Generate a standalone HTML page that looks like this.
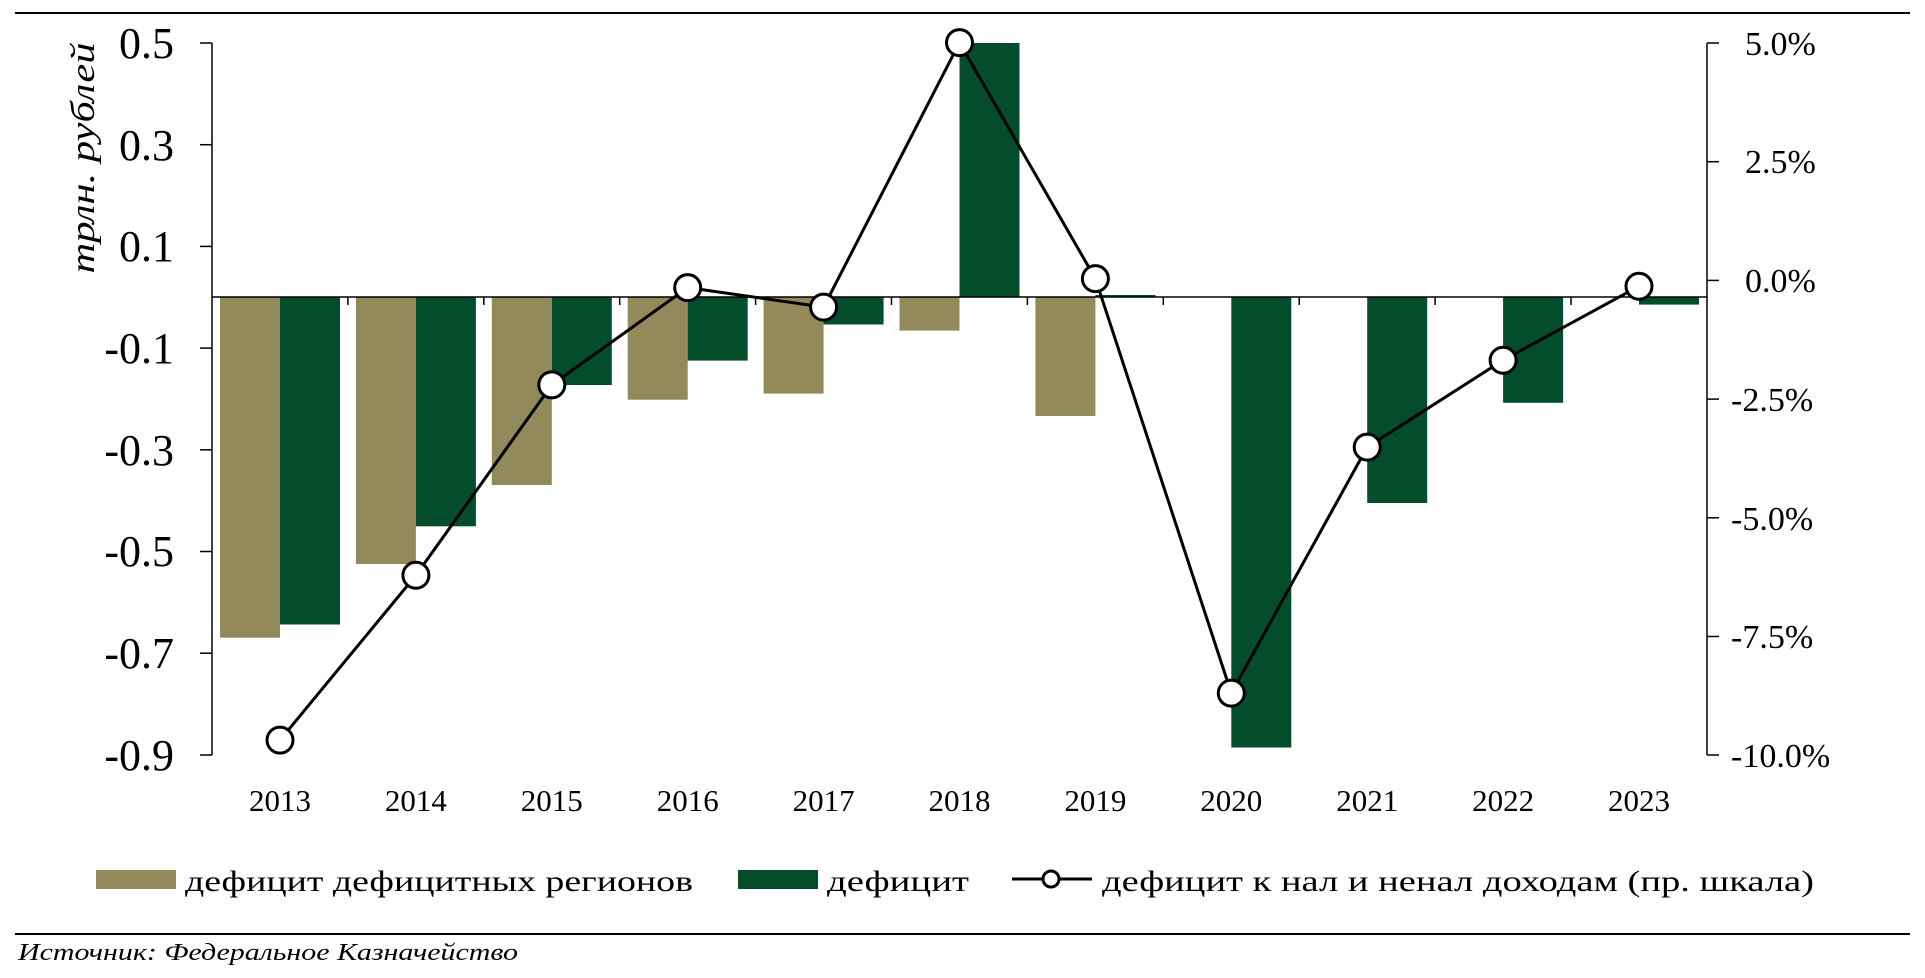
<!DOCTYPE html>
<html><head><meta charset="utf-8"><style>
html,body{margin:0;padding:0;background:#fff;width:1925px;height:978px;overflow:hidden}
svg{display:block;font-family:"Liberation Serif","DejaVu Serif",serif}
</style></head><body>
<svg width="1925" height="978" viewBox="0 0 1925 978" xmlns="http://www.w3.org/2000/svg">
<line x1="15" y1="13" x2="1910" y2="13" stroke="#000" stroke-width="2"/>
<line x1="15" y1="934" x2="1910" y2="934" stroke="#000" stroke-width="2"/>
<g fill="#938a5b">
<rect x="220" y="297" width="60" height="340.7"/>
<rect x="355.9" y="297" width="60" height="267"/>
<rect x="491.8" y="297" width="60" height="188"/>
<rect x="627.7" y="297" width="60" height="102.7"/>
<rect x="763.6" y="297" width="60" height="96.6"/>
<rect x="899.5" y="297" width="60" height="33.6"/>
<rect x="1035.4" y="297" width="60" height="119"/>
</g>
<g fill="#034d2c">
<rect x="280" y="297" width="60" height="327.5"/>
<rect x="415.9" y="297" width="60" height="229.3"/>
<rect x="551.8" y="297" width="60" height="88"/>
<rect x="687.7" y="297" width="60" height="63.6"/>
<rect x="823.6" y="297" width="60" height="27.5"/>
<rect x="959.5" y="43" width="60" height="254"/>
<rect x="1095.4" y="295" width="60" height="2"/>
<rect x="1231.3" y="297" width="60" height="450.5"/>
<rect x="1367.2" y="297" width="60" height="206"/>
<rect x="1503.1" y="297" width="60" height="105.8"/>
<rect x="1639" y="297" width="60" height="7.6"/>
</g>
<g stroke="#000" stroke-width="1.5">
<line x1="212" y1="43" x2="212" y2="755"/>
<line x1="1707" y1="43" x2="1707" y2="755"/>
<line x1="212" y1="297" x2="1707" y2="297"/>
<line x1="200" y1="43" x2="212" y2="43"/>
<line x1="200" y1="144.7" x2="212" y2="144.7"/>
<line x1="200" y1="246.4" x2="212" y2="246.4"/>
<line x1="200" y1="348.1" x2="212" y2="348.1"/>
<line x1="200" y1="449.8" x2="212" y2="449.8"/>
<line x1="200" y1="551.5" x2="212" y2="551.5"/>
<line x1="200" y1="653.2" x2="212" y2="653.2"/>
<line x1="200" y1="755" x2="212" y2="755"/>
<line x1="1707" y1="43" x2="1719" y2="43"/>
<line x1="1707" y1="161.7" x2="1719" y2="161.7"/>
<line x1="1707" y1="280.4" x2="1719" y2="280.4"/>
<line x1="1707" y1="399.1" x2="1719" y2="399.1"/>
<line x1="1707" y1="517.8" x2="1719" y2="517.8"/>
<line x1="1707" y1="636.5" x2="1719" y2="636.5"/>
<line x1="1707" y1="755" x2="1719" y2="755"/>
<line x1="347.9" y1="297" x2="347.9" y2="305"/>
<line x1="483.8" y1="297" x2="483.8" y2="305"/>
<line x1="619.7" y1="297" x2="619.7" y2="305"/>
<line x1="755.6" y1="297" x2="755.6" y2="305"/>
<line x1="891.5" y1="297" x2="891.5" y2="305"/>
<line x1="1027.4" y1="297" x2="1027.4" y2="305"/>
<line x1="1163.3" y1="297" x2="1163.3" y2="305"/>
<line x1="1299.2" y1="297" x2="1299.2" y2="305"/>
<line x1="1435.1" y1="297" x2="1435.1" y2="305"/>
<line x1="1571" y1="297" x2="1571" y2="305"/>
</g>
<g font-size="44" text-anchor="end" fill="#000">
<text x="174" y="58">0.5</text>
<text x="174" y="160">0.3</text>
<text x="174" y="261">0.1</text>
<text x="174" y="363">-0.1</text>
<text x="174" y="465">-0.3</text>
<text x="174" y="566">-0.5</text>
<text x="174" y="668">-0.7</text>
<text x="174" y="770">-0.9</text>
</g>
<g font-size="34" fill="#000">
<text x="1745" y="55">5.0%</text>
<text x="1745" y="173">2.5%</text>
<text x="1745" y="292">0.0%</text>
<text x="1731" y="411">-2.5%</text>
<text x="1731" y="530">-5.0%</text>
<text x="1731" y="648">-7.5%</text>
<text x="1731" y="767">-10.0%</text>
</g>
<text transform="translate(94,158) rotate(-90)" text-anchor="middle" font-size="34" font-style="italic" textLength="231" lengthAdjust="spacingAndGlyphs">трлн. рублей</text>
<g font-size="31" text-anchor="middle">
<text x="280" y="811">2013</text>
<text x="415.9" y="811">2014</text>
<text x="551.8" y="811">2015</text>
<text x="687.7" y="811">2016</text>
<text x="823.6" y="811">2017</text>
<text x="959.5" y="811">2018</text>
<text x="1095.4" y="811">2019</text>
<text x="1231.3" y="811">2020</text>
<text x="1367.2" y="811">2021</text>
<text x="1503.1" y="811">2022</text>
<text x="1639" y="811">2023</text>
</g>
<polyline fill="none" stroke="#000" stroke-width="3" points="280,740.1 415.9,575.3 551.8,384.9 687.7,287.6 823.6,307.1 959.5,42.6 1095.4,278.6 1231.3,693.1 1367.2,447.1 1503.1,360.2 1639,286.2"/>
<g fill="#fff" stroke="#000" stroke-width="3">
<circle cx="280" cy="740.1" r="13"/>
<circle cx="415.9" cy="575.3" r="13"/>
<circle cx="551.8" cy="384.9" r="13"/>
<circle cx="687.7" cy="287.6" r="13"/>
<circle cx="823.6" cy="307.1" r="13"/>
<circle cx="959.5" cy="42.6" r="13"/>
<circle cx="1095.4" cy="278.6" r="13"/>
<circle cx="1231.3" cy="693.1" r="13"/>
<circle cx="1367.2" cy="447.1" r="13"/>
<circle cx="1503.1" cy="360.2" r="13"/>
<circle cx="1639" cy="286.2" r="13"/>
</g>
<rect x="96" y="870" width="80" height="19" fill="#938a5b"/>
<text x="185" y="891" font-size="30" textLength="508" lengthAdjust="spacingAndGlyphs">дефицит дефицитных регионов</text>
<rect x="738" y="870" width="80" height="19" fill="#034d2c"/>
<text x="827" y="891" font-size="30" textLength="142" lengthAdjust="spacingAndGlyphs">дефицит</text>
<line x1="1012" y1="879" x2="1092" y2="879" stroke="#000" stroke-width="3"/>
<circle cx="1051" cy="879" r="8" fill="#fff" stroke="#000" stroke-width="3"/>
<text x="1102" y="891" font-size="30" textLength="712" lengthAdjust="spacingAndGlyphs">дефицит к нал и ненал доходам (пр. шкала)</text>
<text x="18" y="960" font-size="24" font-style="italic" textLength="500" lengthAdjust="spacingAndGlyphs">Источник:  Федеральное Казначейство</text>
</svg>
</body></html>
